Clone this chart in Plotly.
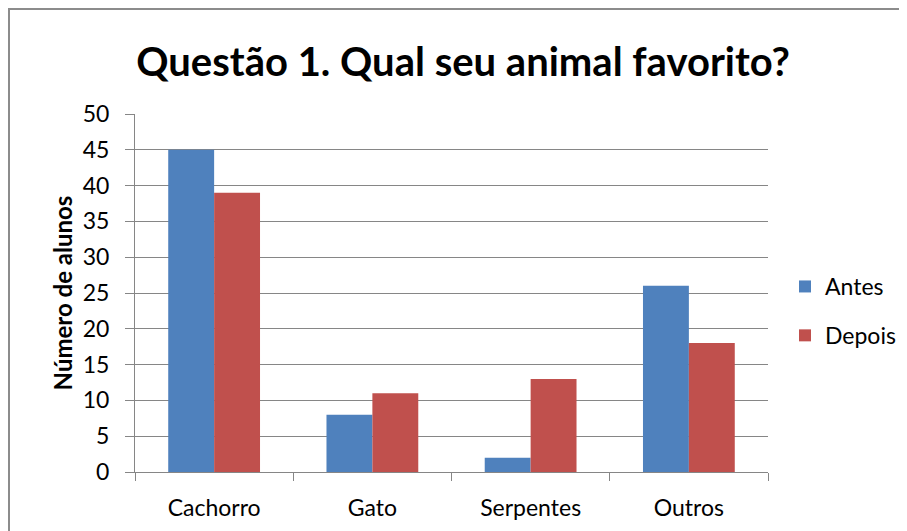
import plotly.graph_objects as go

categories = ["Cachorro", "Gato", "Serpentes", "Outros"]
antes = [45, 8, 2, 26]
depois = [39, 11, 13, 18]
y_ticks = [0, 5, 10, 15, 20, 25, 30, 35, 40, 45, 50]

# page is drawn with an 8px body margin; work in reference page coordinates
OX, OY = 8, 8
PW, PH = 907, 531
W, H = PW - OX, PH - OY
L_, R_, T_, B_ = 135, 768, 114, 472  # plot area in page coords
L, T = L_ - OX, T_ - OY
R, B = W - (R_ - OX), H - (B_ - OY)
pw, ph = R_ - L_, B_ - T_

def px(x):
    return (x - L_) / pw

def py(y):
    return (B_ - y) / ph

FONT = "Lato, 'Open Sans', sans-serif"

fig = go.Figure()
fig.add_trace(go.Bar(name="Antes", x=categories, y=antes, legendgroup="a",
                     marker=dict(color="#4F81BD", line=dict(width=0))))
fig.add_trace(go.Bar(name="Depois", x=categories, y=depois, legendgroup="d",
                     marker=dict(color="#C0504D", line=dict(width=0))))

fig.update_layout(
    width=W, height=H,
    margin=dict(l=L, r=R, t=T, b=B, autoexpand=False),
    paper_bgcolor="white", plot_bgcolor="white",
    barmode="group", bargap=0.42, bargroupgap=0,
    font=dict(family=FONT, size=23, color="#000000"),
    title=dict(text="<b>Questão 1. Qual seu animal favorito?</b>",
               x=px(463), xref="paper", xanchor="center",
               y=1 - (62 - OY) / H, yanchor="middle",
               font=dict(family=FONT, size=40, color="#000000")),
    showlegend=True,
    legend=dict(x=px(785), xanchor="left", y=py(311), yanchor="middle",
                font=dict(size=23), itemwidth=30, tracegroupgap=16,
                bgcolor="rgba(0,0,0,0)"),
    xaxis=dict(showgrid=False, showline=True, linecolor="#868686", linewidth=1,
               ticks="outside", ticklen=8, tickcolor="#868686",
               tickson="boundaries", tickfont=dict(size=23), ticklabelstandoff=15),
    yaxis=dict(range=[0, 50], tickvals=y_ticks, showgrid=True, gridcolor="#868686",
               gridwidth=1, showline=True, linecolor="#868686", linewidth=1,
               ticks="outside", ticklen=9, tickcolor="#868686",
               tickfont=dict(size=23), zeroline=False, ticklabelstandoff=11,
               title=dict(text="<b>Número de alunos</b>", font=dict(size=24), standoff=3)),
    shapes=[
        dict(type="line", xref="paper", yref="paper", x0=px(8), x1=px(PW + 5), y0=py(9), y1=py(9),
             line=dict(color="#8C8C8C", width=2)),
        dict(type="line", xref="paper", yref="paper", x0=px(9), x1=px(9), y0=py(8), y1=py(PH + 5),
             line=dict(color="#8C8C8C", width=2)),
    ],
)

fig.write_html("out.html")
